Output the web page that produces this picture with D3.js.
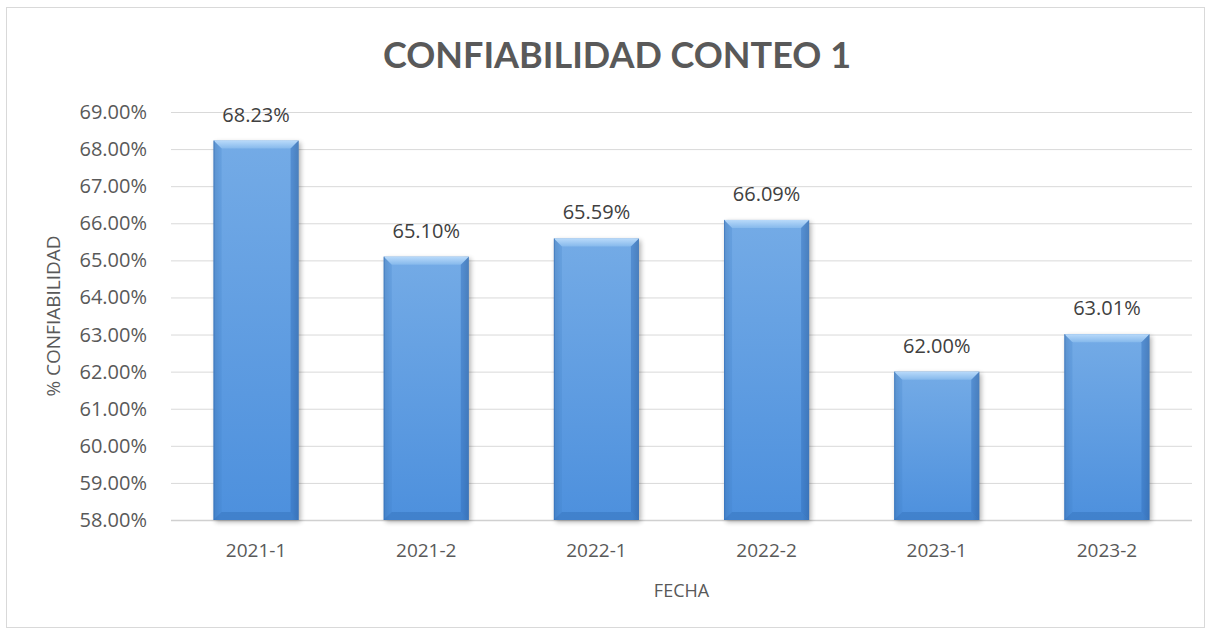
<!DOCTYPE html>
<html><head><meta charset="utf-8">
<script src="https://cdn.jsdelivr.net/npm/d3@7"></script>
<style>body{margin:0;background:#fff;font-family:"Open Sans",sans-serif;}</style>
</head><body>
<svg id="c" width="1211" height="630"></svg>
<script>
const categories = ["2021-1","2021-2","2022-1","2022-2","2023-1","2023-2"];
const values = [68.23, 65.10, 65.59, 66.09, 62.00, 63.01];
const yTicks = [58,59,60,61,62,63,64,65,66,67,68,69];
const title = "CONFIABILIDAD CONTEO 1";
const xTitle = "FECHA";
const yTitle = "% CONFIABILIDAD";

(function(){
const svg = d3.select("#c");
const pLeft = 171, pRight = 1192, pTop = 112, pBottom = 520;
const x = d3.scaleBand().domain(categories).range([pLeft, pRight]).paddingInner(0.5).paddingOuter(0.25);
const y = d3.scaleLinear().domain([58, 69]).range([pBottom, pTop]);

svg.append("rect").attr("x",6.5).attr("y",7.5).attr("width",1198).attr("height",620)
  .attr("fill","#fff").attr("stroke","#d9d9d9");

const defs = svg.append("defs");
const g1 = defs.append("linearGradient").attr("id","bar").attr("x1",0).attr("y1",0).attr("x2",0).attr("y2",1);
g1.append("stop").attr("offset","0%").attr("stop-color","#74abe6");
g1.append("stop").attr("offset","100%").attr("stop-color","#4d90dd");
const gh = defs.append("linearGradient").attr("id","barh").attr("x1",0).attr("y1",0).attr("x2",1).attr("y2",0);
gh.append("stop").attr("offset","0%").attr("stop-color","#000").attr("stop-opacity",0.10);
gh.append("stop").attr("offset","8%").attr("stop-color","#000").attr("stop-opacity",0);
gh.append("stop").attr("offset","92%").attr("stop-color","#000").attr("stop-opacity",0);
gh.append("stop").attr("offset","100%").attr("stop-color","#000").attr("stop-opacity",0.15);
const gt = defs.append("linearGradient").attr("id","bevel").attr("x1",0).attr("y1",0).attr("x2",0).attr("y2",1);
gt.append("stop").attr("offset","0%").attr("stop-color","#b9dafa");
gt.append("stop").attr("offset","100%").attr("stop-color","#86b9ec");
const sh = defs.append("filter").attr("id","sh").attr("x","-20%").attr("y","-20%").attr("width","140%").attr("height","140%");
sh.append("feGaussianBlur").attr("stdDeviation",2.5);

svg.append("g").selectAll("line").data(yTicks).join("line")
  .attr("x1",pLeft).attr("x2",pRight).attr("y1",d=>y(d)+0.5).attr("y2",d=>y(d)+0.5)
  .attr("stroke",d=>d===58?"#d0d0d0":"#d9d9d9").attr("stroke-width",d=>d===58?1.5:1);

svg.append("g").selectAll("text").data(yTicks).join("text")
  .attr("x",147).attr("y",d=>y(d)).attr("dy","0.35em").attr("text-anchor","end")
  .attr("font-size",20).attr("fill","#595959").text(d=>d.toFixed(2)+"%");

const bw = x.bandwidth();
const bars = svg.append("g").selectAll("g").data(values).join("g");
bars.append("rect").attr("x",(d,i)=>x(categories[i])+2).attr("y",d=>y(d)+2)
  .attr("width",bw).attr("height",d=>pBottom-y(d)).attr("fill","#000").attr("opacity",0.3).attr("filter","url(#sh)");
bars.append("rect").attr("x",(d,i)=>x(categories[i])).attr("y",d=>y(d))
  .attr("width",bw).attr("height",d=>pBottom-y(d)).attr("fill","url(#bar)");
bars.append("rect").attr("x",(d,i)=>x(categories[i])).attr("y",d=>y(d))
  .attr("width",bw).attr("height",d=>pBottom-y(d)).attr("fill","url(#barh)");
const bv = 8;
bars.append("path").attr("d",(d,i)=>{
  const x0=x(categories[i]), x1=x0+bw, y0=y(d);
  return `M${x0},${y0}L${x1},${y0}L${x1-bv},${y0+bv}L${x0+bv},${y0+bv}Z`;
}).attr("fill","url(#bevel)");
bars.append("path").attr("d",(d,i)=>{
  const x0=x(categories[i]), y0=y(d);
  return `M${x0},${y0}L${x0+bv},${y0+bv}L${x0+bv},${pBottom-bv}L${x0},${pBottom}Z`;
}).attr("fill","#3f7fc9").attr("opacity",0.25);
bars.append("path").attr("d",(d,i)=>{
  const x1=x(categories[i])+bw, y0=y(d);
  return `M${x1},${y0}L${x1-bv},${y0+bv}L${x1-bv},${pBottom-bv}L${x1},${pBottom}Z`;
}).attr("fill","#2f6bb5").attr("opacity",0.45);
bars.append("path").attr("d",(d,i)=>{
  const x0=x(categories[i]), x1=x0+bw;
  return `M${x0},${pBottom}L${x0+bv},${pBottom-bv}L${x1-bv},${pBottom-bv}L${x1},${pBottom}Z`;
}).attr("fill","#2f6bb5").attr("opacity",0.4);
bars.append("line").attr("x1",(d,i)=>x(categories[i])+0.5).attr("x2",(d,i)=>x(categories[i])+0.5)
  .attr("y1",d=>y(d)).attr("y2",pBottom).attr("stroke","#2f6bb5").attr("stroke-opacity",0.5);

svg.append("g").selectAll("text").data(values).join("text")
  .attr("x",(d,i)=>x(categories[i])+bw/2).attr("y",d=>y(d)-19)
  .attr("text-anchor","middle").attr("font-size",20).attr("fill","#404040")
  .text(d=>d.toFixed(2)+"%");

svg.append("g").selectAll("text").data(categories).join("text")
  .attr("x",d=>x(d)+bw/2).attr("y",557).attr("text-anchor","middle")
  .attr("font-size",19).attr("fill","#595959").text(d=>d);

svg.append("text").attr("x",(pLeft+pRight)/2).attr("y",597).attr("text-anchor","middle")
  .attr("font-size",18).attr("fill","#595959").text(xTitle);
svg.append("text").attr("transform",`translate(60,316) rotate(-90)`)
  .attr("text-anchor","middle").attr("font-size",19).attr("fill","#595959").text(yTitle);
svg.append("text").attr("x",617).attr("y",68).attr("text-anchor","middle")
  .attr("font-family","Lato, 'Open Sans', sans-serif").attr("font-weight","bold")
  .attr("font-size",36).attr("fill","#595959").text(title);
})();
</script>
</body></html>
